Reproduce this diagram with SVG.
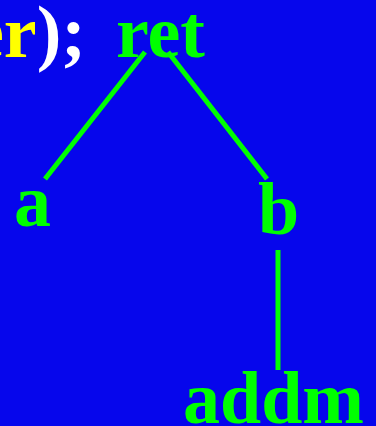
<svg xmlns="http://www.w3.org/2000/svg" width="376" height="426" viewBox="0 0 376 426">
<style>
.t{font-family:"Liberation Serif","Times New Roman",serif;font-weight:bold;font-size:74px;fill:#00ff00}
.e{stroke:#00ff00;stroke-width:5;fill:none}
</style>
<rect width="376" height="426" fill="#0606ec"/>
<text class="t" x="-29" y="57"><tspan fill="#ffff00">er</tspan><tspan fill="#ffffff">);</tspan></text>
<g id="connectors">
<line class="e" x1="145" y1="52" x2="45" y2="179"/>
<line class="e" x1="168" y1="52" x2="267" y2="179"/>
<line class="e" x1="278" y1="250" x2="278" y2="370"/>
</g>
<g id="ret"><text class="t" x="116" y="57">ret</text></g>
<g id="a"><text class="t" x="14" y="226">a</text></g>
<g id="b"><text class="t" x="258" y="234">b</text></g>
<g id="addm"><text class="t" x="183" y="423">addm</text></g>
</svg>
